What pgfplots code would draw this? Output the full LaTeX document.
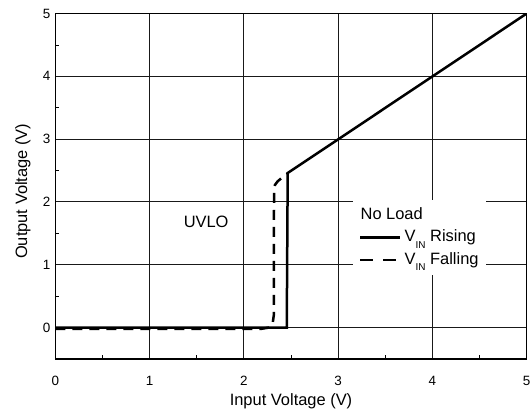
\documentclass[border=0pt]{standalone}
\usepackage{fontspec}
\setmainfont{Liberation Sans}
\usepackage{pgfplots}
\pgfplotsset{compat=1.18}
\begin{document}
\begin{tikzpicture}
\useasboundingbox (-55.3bp,-53.1bp) rectangle (476.7bp,358.9bp);
\begin{axis}[at={(0,0)}, anchor=south west, scale only axis,
  width=471.4bp, height=345.4bp,
  xmin=0, xmax=5, ymin=-0.5, ymax=5,
  xtick={0,1,2,3,4,5}, ytick={0,1,2,3,4,5},
  minor xtick={0.5,1.5,2.5,3.5,4.5},
  minor ytick={-0.5,0.5,1.5,2.5,3.5,4.5},
  tick pos=left, tick align=inside,
  major tick length=0pt, minor tick length=4bp,
  minor tick style={black, line width=0.8bp},
  grid=major, major grid style={black!90, line width=0.9bp},
  axis line style={black, line width=1.3bp},
  /pgf/number format/assume math mode=true,
  ticklabel style={font=\fontsize{13.5}{14}\selectfont},
  xticklabel style={yshift=-14bp},
  yticklabel style={xshift=-1.5bp},
  xlabel={Input Voltage (V)},
  ylabel={Output Voltage (V)},
  label style={font=\fontsize{16.5}{18}\selectfont},
  xlabel style={at={(axis description cs:0.5,0)}, anchor=north, inner sep=0pt, yshift=-34bp},
  ylabel style={at={(axis description cs:-0.0855,0.4855)}, anchor=north, inner sep=0pt},
  legend style={at={(axis cs:3.157,2.03)}, anchor=north west, draw=none, fill=white,
    inner xsep=6bp, inner ysep=6bp, font=\fontsize{16.5}{18}\selectfont,
    nodes={inner sep=1bp, text height=12bp, text depth=4bp},
    row sep=4.5bp, column sep=2bp},
  legend cell align=left,
  legend image code/.code={\draw[#1] (0bp,0bp) -- (40bp,0bp);},
]
\addlegendimage{empty legend}
\addlegendentry{\hspace*{-44bp}No Load}
\addplot[black, line width=2.5bp] coordinates {(0,0) (2.455,0) (2.465,2.46) (5,5)};
\addlegendentry{V\raisebox{-6.5bp}{\fontsize{10}{10}\selectfont IN} Rising}
\addplot[black, line width=2.5bp, dash pattern=on 10bp off 7bp,
  legend image post style={dash pattern=on 13bp off 10bp}] coordinates {
  (0,-0.02) (2.19,-0.02) (2.27,0.0) (2.305,0.06) (2.318,0.2) (2.32,2.2)
  (2.33,2.27) (2.36,2.33) (2.40,2.38) (2.47,2.46)};
\addlegendentry{V\raisebox{-6.5bp}{\fontsize{10}{10}\selectfont IN} Falling}
\node[font=\fontsize{16.5}{18}\selectfont] at (axis cs:1.60,1.69) {UVLO};
\end{axis}
\end{tikzpicture}
\end{document}
